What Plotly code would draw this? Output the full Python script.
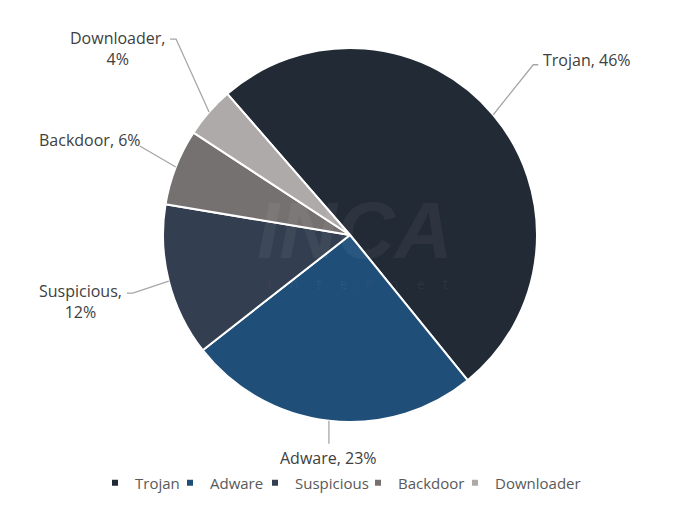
import numpy as np
import plotly.graph_objects as go

# malware share by type (%)
labels = ["Trojan", "Adware", "Suspicious", "Backdoor", "Downloader"]
shares = [46, 23, 12, 6, 4]
colors = ["#222a35", "#1f4e79", "#333f50", "#767171", "#aeaaaa"]

W, H = 700, 507
OFF = 8                     # page body margin shifts the figure by 8px
cx, cy, r = 350, 235, 187   # pie centre and radius in window px
start = -41                 # first slice starts 41 deg left of 12 o'clock

# label layout: elbow offset from rim, horizontal stub, text anchor, text offset
wrap = {"Suspicious", "Downloader"}
label_pos = {
    "Trojan":     (40, -50, 5, "left", 3, -5),
    "Adware":     (0, 23, 0, "center", 0, 14),
    "Suspicious": (-36, 12, -6, "right", -3, 8),
    "Backdoor":   (-36, -21, 0, "right", 3, -6),
    "Downloader": (-33, -73, -6, "right", -3, 9),
}
# where each legend entry's text starts (window px)
legend_x = [135, 210, 295, 398, 495]
legend_y = 483


def px(x, y):
    # window pixel -> paper coords (margins are zero)
    return (x - OFF) / W, 1 - (y - OFF) / H


fig = go.Figure()
fig.add_trace(go.Pie(
    labels=labels, values=shares, sort=False, direction="clockwise",
    rotation=start, textinfo="none", showlegend=False,
    marker=dict(colors=colors, line=dict(color="white", width=2)),
    domain=dict(x=[0, 2 * (cx - OFF) / W],
                y=[px(0, cy + r)[1], px(0, cy - r)[1]]),
))

# legend: one small legend per entry so the spacing follows the original
legend_layout = {}
for i, (lab, col, lx) in enumerate(zip(labels, colors, legend_x)):
    key = "legend" if i == 0 else f"legend{i + 1}"
    fig.add_trace(go.Scatter(x=[None], y=[None], mode="markers", name=lab,
                             legend=key,
                             marker=dict(symbol="square", size=6, color=col)))
    lxp, lyp = px(lx - 40, legend_y)
    legend_layout[key] = dict(x=lxp, xanchor="left", y=lyp, yanchor="middle",
                              itemwidth=30, borderwidth=0,
                              bgcolor="rgba(0,0,0,0)",
                              font=dict(size=15, color="#595959"))

# leader lines + labels, anchored at each slice's mid angle
frac = np.array(shares) / sum(shares)
mids = start + 360 * (np.cumsum(frac) - frac / 2)
for lab, val, a in zip(labels, shares, np.radians(mids)):
    dx, dy, stub, anchor, tx, ty = label_pos[lab]
    x0, y0 = cx + r * np.sin(a), cy - r * np.cos(a)
    x1, y1 = x0 + dx, y0 + dy
    x2 = x1 + stub
    p0, p1, p2 = px(x0, y0), px(x1, y1), px(x2, y1)
    fig.add_shape(type="path", xref="paper", yref="paper",
                  path=f"M {p0[0]} {p0[1]} L {p1[0]} {p1[1]} L {p2[0]} {p2[1]}",
                  line=dict(color="#a6a6a6", width=1.3))
    text = f"{lab},<br>{val}%" if lab in wrap else f"{lab}, {val}%"
    tp = px(x2 + tx, y1 + ty)
    fig.add_annotation(x=tp[0], y=tp[1], xref="paper", yref="paper",
                       text=text, showarrow=False, xanchor=anchor,
                       yanchor="middle", align="center",
                       font=dict(size=16, color="#404040"))

# faint watermark
wx, wy = px(355, 230)
fig.add_annotation(x=wx, y=wy, xref="paper", yref="paper",
                   text="<b><i>INCA</i></b>", showarrow=False,
                   font=dict(size=80, color="rgba(255,255,255,0.05)",
                             family="Liberation Sans"))
wx, wy = px(358, 283)
fig.add_annotation(x=wx, y=wy, xref="paper", yref="paper",
                   text="i  .  n  .  t  .  e  .  r  .  n  .  e  .  t",
                   showarrow=False,
                   font=dict(size=14, color="rgba(255,255,255,0.06)"))

fig.update_layout(
    width=W, height=H,
    margin=dict(l=0, r=0, t=0, b=0),
    paper_bgcolor="white", plot_bgcolor="white",
    font=dict(family="Open Sans, Noto Sans CJK KR, sans-serif"),
    xaxis=dict(visible=False), yaxis=dict(visible=False),
    **legend_layout,
)

fig.write_html("out.html")
